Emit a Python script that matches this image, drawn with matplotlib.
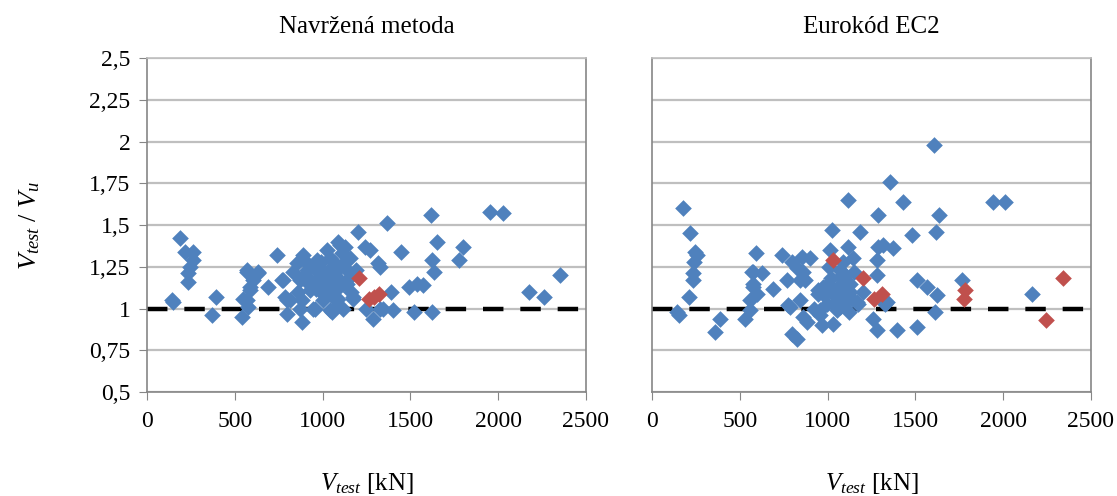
import matplotlib
matplotlib.use("Agg")
import matplotlib.pyplot as plt
from matplotlib.ticker import FuncFormatter

plt.rcParams['font.family'] = ['Liberation Serif', 'DejaVu Serif']
plt.rcParams['mathtext.fontset'] = 'custom'
plt.rcParams['mathtext.rm'] = 'Liberation Serif'
plt.rcParams['mathtext.it'] = 'Liberation Serif:italic'

# --- data (V_test [kN], V_test/V_u) ---
# proposed method, blue points
prop_x = [140, 150, 188, 216, 264, 264, 245, 235, 235, 395, 368, 539, 568, 633, 587, 549,
          576, 605, 568, 633, 587, 568, 690, 739, 767, 796, 796, 881, 946, 853, 890, 775,
          786, 814, 871, 909, 928, 957, 966, 1003, 1023, 1052, 1060, 1042, 1090, 1109, 1118,
          1137, 1156, 1175, 1203, 1241, 1270, 1316, 1327, 1288, 1365, 1344, 1173, 1088, 1052,
          1116, 1617, 1953, 2025, 1650, 1445, 1621, 1634, 1800, 1777, 2352, 2175, 2261, 1492,
          1536, 1572, 1388, 1401, 1521, 1623, 1327, 900, 950, 980, 1000, 1020, 1040, 1070,
          1080, 1100, 1130, 1150, 1160, 920, 860, 880, 1000, 960, 830, 1190, 1250, 1100, 870,
          940, 990, 1030, 1065, 1095, 1125, 1010, 1045, 975, 910, 1140, 1085]
prop_y = [1.05, 1.04, 1.42, 1.34, 1.34, 1.29, 1.25, 1.21, 1.16, 1.07, 0.96, 0.95, 1.23, 1.21,
          1.11, 1.06, 1.01, 1.17, 1.22, 1.22, 1.13, 1.05, 1.13, 1.32, 1.17, 1.05, 0.97, 0.92,
          1.00, 1.27, 1.32, 1.17, 1.07, 1.05, 1.17, 1.23, 1.11, 1.00, 1.29, 1.15, 1.35, 1.25,
          1.07, 0.99, 1.40, 1.33, 1.15, 1.23, 1.30, 1.07, 1.46, 1.37, 1.35, 1.27, 1.25, 0.94,
          1.51, 1.00, 1.06, 1.02, 0.98, 1.00, 1.56, 1.58, 1.57, 1.40, 1.34, 1.29, 1.22, 1.37,
          1.29, 1.20, 1.10, 1.07, 1.13, 1.15, 1.14, 1.10, 0.99, 0.98, 0.98, 1.00, 1.20, 1.25,
          1.18, 1.22, 1.10, 1.30, 1.20, 1.12, 1.25, 1.37, 1.18, 1.10, 1.15, 1.10, 1.05, 1.05,
          1.12, 1.22, 1.23, 1.00, 1.38, 1.00, 1.16, 1.28, 1.19, 1.28, 1.17, 1.28, 1.08, 1.14,
          1.22, 1.27, 1.15, 1.06]
prop_red_x = [1210, 1265, 1295, 1320]
prop_red_y = [1.18, 1.06, 1.07, 1.09]

# Eurocode EC2, blue points
ec2_x = [140, 155, 178, 216, 245, 254, 239, 235, 235, 212, 387, 359, 592, 577, 625, 577, 596,
         691, 558, 530, 568, 577, 558, 739, 796, 767, 776, 824, 860, 900, 843, 862, 796, 824,
         881, 947, 957, 995, 1033, 1023, 1014, 1071, 1090, 1109, 1071, 1118, 1118, 1147, 1185,
         1175, 1260, 1280, 1289, 1289, 1280, 1280, 1608, 1355, 1431, 1636, 1944, 2012, 1482,
         1616, 1374, 1507, 1564, 1621, 1764, 2162, 1612, 1327, 1393, 1507, 853, 871, 786, 843,
         947, 957, 966, 1071, 1033, 1052, 1128, 1166, 1336, 1317, 1000, 1050, 1080, 1100, 1130,
         1150, 1060, 980, 920, 1120, 1200, 1010, 1085, 1040, 1095, 1020, 1140, 975]
ec2_y = [0.98, 0.96, 1.60, 1.45, 1.34, 1.32, 1.28, 1.21, 1.17, 1.07, 0.94, 0.86, 1.33, 1.22,
         1.21, 1.15, 1.09, 1.12, 0.99, 0.94, 1.22, 1.13, 1.05, 1.32, 1.28, 1.17, 1.02, 1.24,
         1.22, 1.30, 1.17, 0.95, 0.85, 0.82, 0.92, 1.09, 0.96, 1.03, 0.91, 1.47, 1.35, 1.23,
         1.13, 1.05, 1.01, 1.65, 1.37, 1.30, 1.46, 1.03, 0.94, 0.87, 1.56, 1.37, 1.29, 1.20,
         1.98, 1.76, 1.64, 1.56, 1.64, 1.64, 1.44, 1.46, 1.36, 1.17, 1.13, 1.08, 1.17, 1.09,
         0.98, 1.03, 0.87, 0.89, 1.31, 1.17, 1.01, 1.05, 1.11, 0.99, 0.90, 1.19, 1.09, 0.99,
         1.15, 1.04, 1.04, 1.38, 1.15, 1.12, 1.08, 1.20, 1.10, 1.22, 1.05, 1.08, 1.00, 0.98,
         1.10, 1.25, 1.28, 1.02, 1.16, 1.18, 1.06, 1.13]
ec2_red_x = [1033, 1203, 1265, 1310, 1775, 1785, 2245, 2340]
ec2_red_y = [1.29, 1.18, 1.06, 1.09, 1.06, 1.11, 0.93, 1.18]

titles = ['Navržená metoda', 'Eurokód EC2']
x_ticks = [0, 500, 1000, 1500, 2000, 2500]
y_ticks = [0.5, 0.75, 1.0, 1.25, 1.5, 1.75, 2.0, 2.25, 2.5]

BLUE = '#4F81BD'
RED = '#C0504D'
GRID = '#BFBFBF'
SPINE = '#868686'

fig = plt.figure(figsize=(11.17, 4.96), dpi=100)
ax1 = fig.add_axes([0.1316, 0.2097, 0.393, 0.673])
ax2 = fig.add_axes([0.5837, 0.2097, 0.393, 0.673])

sets = [(ax1, prop_x, prop_y, prop_red_x, prop_red_y),
        (ax2, ec2_x, ec2_y, ec2_red_x, ec2_red_y)]

comma = FuncFormatter(lambda v, p: ('%g' % v).replace('.', ','))

for i, (ax, bx, by, rx, ry) in enumerate(sets):
    ax.set_xlim(0, 2500)
    ax.set_ylim(0.5, 2.5)
    ax.set_yticks(y_ticks)
    ax.set_xticks(x_ticks)
    ax.grid(axis='y', color=GRID, lw=1.6, zorder=0)
    ax.set_axisbelow(True)
    # reference line V_test / V_u = 1
    ax.axhline(1.0, color='black', lw=3.2, ls=(0, (4.6, 3.8)), zorder=1)
    ax.scatter(bx, by, marker='D', s=72, color=BLUE, linewidths=0, zorder=3)
    ax.scatter(rx, ry, marker='D', s=72, color=RED, linewidths=0, zorder=4)
    for sp in ax.spines.values():
        sp.set_color(SPINE)
        sp.set_linewidth(1.2)
    ax.spines['top'].set_color(GRID)
    ax.set_title(titles[i], fontsize=18, pad=18)
    ax.tick_params(axis='x', direction='out', length=6, color=SPINE, labelsize=17, pad=8)
    ax.set_xlabel(r'$V_{test}$ [kN]', fontsize=18, labelpad=28)
    if i == 0:
        ax.yaxis.set_major_formatter(comma)
        ax.tick_params(axis='y', direction='out', length=6, color=SPINE, labelsize=17, pad=6)
        ax.set_ylabel(r'$V_{test}$ / $V_u$', fontsize=19, labelpad=34)
    else:
        ax.tick_params(axis='y', length=0, labelleft=False)

fig.savefig('out.png', dpi=100)
